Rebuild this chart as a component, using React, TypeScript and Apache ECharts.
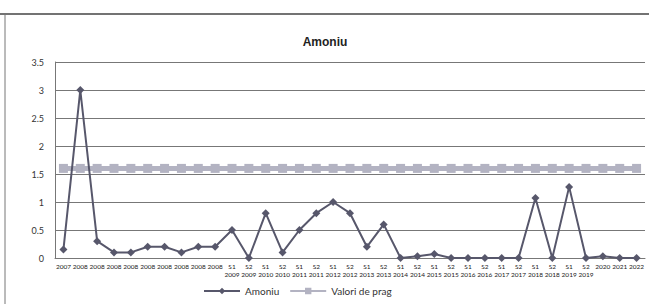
import React, { useEffect, useRef } from "react";
import * as echarts from "echarts";

const categories: string[] = [
  "2007", "2008", "2008", "2008", "2008", "2008", "2008", "2008", "2008", "2008",
  "S1\n2009", "S2\n2009", "S1\n2010", "S2\n2010", "S1\n2011", "S2\n2011",
  "S1\n2012", "S2\n2012", "S1\n2013", "S2\n2013", "S1\n2014", "S2\n2014",
  "S1\n2015", "S2\n2015", "S1\n2016", "S2\n2016", "S1\n2017", "S2\n2017",
  "S1\n2018", "S2\n2018", "S1\n2019", "S2\n2019", "2020", "2021", "2022",
];

const amoniu: number[] = [
  0.15, 3, 0.3, 0.1, 0.1, 0.2, 0.2, 0.1, 0.2, 0.2,
  0.5, 0, 0.8, 0.1, 0.5, 0.8, 1.0, 0.8, 0.2, 0.6,
  0, 0.03, 0.07, 0, 0, 0, 0, 0, 1.07, 0, 1.27, 0, 0.03, 0, 0,
];

const pragValue = 1.6;
const valoriDePrag: number[] = categories.map(() => pragValue);

const yTicks = { min: 0, max: 3.5, interval: 0.5 };

export default function App() {
  const ref = useRef<HTMLDivElement>(null);
  useEffect(() => {
    if (!ref.current) return;
    const chart = echarts.init(ref.current, undefined, { renderer: "svg" });
    const font = "Lato, 'Open Sans', sans-serif";
    chart.setOption({
      animation: false,
      backgroundColor: "#ffffff",
      textStyle: { fontFamily: font },
      title: {
        text: "Amoniu",
        left: 320,
        top: 31,
        textAlign: "center",
        textStyle: { fontSize: 12, fontWeight: "bold", color: "#222", fontFamily: "'Liberation Sans', Arial, sans-serif" },
      },
      graphic: [
        { type: "line", shape: { x1: 0, y1: 14, x2: 649, y2: 14 }, style: { stroke: "#444", lineWidth: 1.5 } },
        { type: "line", shape: { x1: 5, y1: 14, x2: 5, y2: 304 }, style: { stroke: "#777", lineWidth: 1 } },
      ],
      legend: {
        bottom: 3,
        left: 198,
        itemGap: 10,
        itemWidth: 36,
        itemHeight: 8,
        textStyle: { fontSize: 10, color: "#333", fontFamily: font },
        data: ["Amoniu", "Valori de prag"],
      },
      grid: { left: 55, right: 4, top: 62, bottom: 46, containLabel: false },
      xAxis: {
        type: "category",
        data: categories,
        boundaryGap: true,
        axisLine: { show: true, lineStyle: { color: "#777" } },
        axisTick: { show: false },
        axisLabel: {
          interval: 0,
          fontSize: 6.5,
          lineHeight: 8,
          color: "#222",
          margin: 4,
          fontFamily: font,
          formatter: (v: string) => (v.indexOf("\n") >= 0 ? v : v + "\n "),
        },
      },
      yAxis: {
        type: "value",
        min: yTicks.min,
        max: yTicks.max,
        interval: yTicks.interval,
        axisLine: { show: true, lineStyle: { color: "#777" } },
        axisTick: { show: false },
        axisLabel: { fontSize: 9, color: "#333", margin: 11, fontFamily: font },
        splitLine: { show: true, lineStyle: { color: "#777", width: 1 } },
      },
      series: [
        {
          name: "Valori de prag",
          type: "line",
          data: valoriDePrag,
          symbol: "rect",
          symbolSize: 9,
          lineStyle: { color: "#b3b3c2", width: 5 },
          itemStyle: { color: "#b3b3c2" },
          z: 2,
        },
        {
          name: "Amoniu",
          type: "line",
          data: amoniu,
          symbol: "diamond",
          symbolSize: 8,
          lineStyle: { color: "#57576b", width: 2 },
          itemStyle: { color: "#57576b" },
          z: 3,
        },
      ],
    });
    return () => chart.dispose();
  }, []);
  return (
    <div
      ref={ref}
      style={{ position: "fixed", left: 0, top: 0, width: 649, height: 304 }}
    />
  );
}
